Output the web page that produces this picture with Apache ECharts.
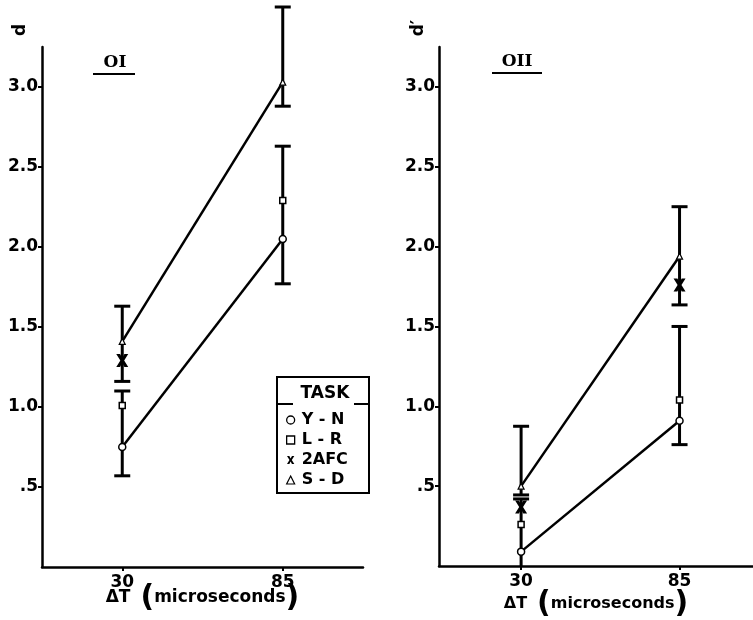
<!DOCTYPE html>
<html>
<head>
<meta charset="utf-8">
<script src="https://cdn.jsdelivr.net/npm/echarts@6/dist/echarts.min.js"></script>
<style>html,body{margin:0;padding:0;background:#fff}#c{width:753px;height:620px}</style>
</head>
<body>
<div id="c"></div>
<script>
// ---- data ----
const xTickValues = [30, 85];
const yTickValues = [0.5, 1.0, 1.5, 2.0, 2.5, 3.0];
const yTickLabels = ['.5', '1.0', '1.5', '2.0', '2.5', '3.0'];
const taskNames = ['Y-N', 'L-R', '2AFC', 'S-D'];

// Observer I
const ynOI  = [0.75, 2.05];
const lrOI  = [1.01, 2.29];
const afcOI = [1.29, 3.36];
const sdOI  = [1.41, 3.03];
const errXOI    = [30, 30, 85, 85];
const errLowOI  = [0.57, 1.16, 1.77, 2.88];
const errHighOI = [1.10, 1.63, 2.63, 3.50];

// Observer II
const ynOII  = [0.09, 0.91];
const lrOII  = [0.26, 1.04];
const afcOII = [0.37, 1.76];
const sdOII  = [0.50, 1.94];
const errXOII    = [30, 30, 85, 85];
const errLowOII  = [-0.20, 0.445, 0.76, 1.635];
const errHighOII = [0.42, 0.875, 1.50, 2.25];

// ---- helpers ----
const FONT = 'DejaVu Sans';
const pair = (xs, ys) => xs.map((x, i) => [x, ys[i]]);
const triple = (xs, lo, hi) => xs.map((x, i) => [x, lo[i], hi[i]]);
const xPath = 'path://M0,0 L3.2,0 L5,3.6 L6.8,0 L10,0 L6.6,5.5 L10,11 L6.8,11 L5,7.4 L3.2,11 L0,11 L3.4,5.5 Z';

function yLabel(v) {
  const i = yTickValues.findIndex(t => Math.abs(t - v) < 1e-6);
  return i >= 0 ? yTickLabels[i] : '';
}

function renderErr(params, api) {
  const x = api.value(0), lo = api.value(1), hi = api.value(2);
  const pHi = api.coord([x, hi]);
  const pLo = api.coord([x, lo]);
  const cs = params.coordSys;
  const bottom = cs.y + cs.height;
  let yLo = pLo[1], capLo = true;
  if (yLo > bottom) { yLo = bottom; capLo = false; }
  const hw = 8;
  const st = { stroke: '#000', lineWidth: 3 };
  const children = [
    { type: 'line', shape: { x1: pHi[0], y1: pHi[1], x2: pHi[0], y2: yLo }, style: st },
    { type: 'line', shape: { x1: pHi[0] - hw, y1: pHi[1], x2: pHi[0] + hw, y2: pHi[1] }, style: st }
  ];
  if (capLo) children.push({ type: 'line', shape: { x1: pLo[0] - hw, y1: yLo, x2: pLo[0] + hw, y2: yLo }, style: st });
  return { type: 'group', children };
}

function xAxisDef(gridIndex, min, max, nameGap, fs) {
  return {
    type: 'value', gridIndex, min, max,
    nameLocation: 'middle', nameGap, nameMoveOverlap: false,
    name: '{d|ΔT}   {p|(}{m|microseconds}{p|)}',
    nameTextStyle: {
      rich: {
        d: { fontFamily: FONT, fontWeight: 'bold', fontSize: fs, color: '#000' },
        m: { fontFamily: FONT, fontWeight: 'bold', fontSize: fs, color: '#000' },
        p: { fontFamily: FONT, fontWeight: 'bold', fontSize: 30, color: '#000' }
      }
    },
    axisLine: { onZero: false, lineStyle: { color: '#000', width: 2.5 } },
    axisTick: { show: true, length: 4, customValues: xTickValues, lineStyle: { color: '#000', width: 2 } },
    axisLabel: { customValues: xTickValues, margin: 7, fontFamily: FONT, fontWeight: 'bold', fontSize: 17, color: '#000' },
    splitLine: { show: false }
  };
}
function yAxisDef(gridIndex) {
  return {
    type: 'value', gridIndex, min: 0, max: 3.25,
    axisLine: { onZero: false, lineStyle: { color: '#000', width: 2.5 } },
    axisTick: { show: true, length: 4, customValues: yTickValues, lineStyle: { color: '#000', width: 2 } },
    axisLabel: { customValues: yTickValues, formatter: yLabel, margin: 4, fontFamily: FONT, fontWeight: 'bold', fontSize: 17, color: '#000' },
    splitLine: { show: false }
  };
}

function panelSeries(idx, yn, lr, afc, sd, ex, elo, ehi) {
  return [
    { type: 'custom', name: 'err' + idx, xAxisIndex: idx, yAxisIndex: idx, renderItem: renderErr,
      encode: { x: 0, y: [1, 2] }, data: triple(ex, elo, ehi), clip: false, z: 1, silent: true },
    { type: 'line', name: taskNames[0], xAxisIndex: idx, yAxisIndex: idx, data: pair(xTickValues, yn),
      symbol: 'circle', symbolSize: 7, lineStyle: { color: '#000', width: 2.5 },
      itemStyle: { color: '#fff', borderColor: '#000', borderWidth: 1.5 }, z: 3 },
    { type: 'scatter', name: taskNames[1], xAxisIndex: idx, yAxisIndex: idx, data: pair(xTickValues, lr),
      symbol: 'rect', symbolSize: 6, itemStyle: { color: '#fff', borderColor: '#000', borderWidth: 1.5, opacity: 1 }, z: 4 },
    { type: 'scatter', name: taskNames[2], xAxisIndex: idx, yAxisIndex: idx, data: pair(xTickValues, afc),
      symbol: xPath, symbolSize: [12, 13], itemStyle: { color: '#000', opacity: 1 }, z: 4 },
    { type: 'line', name: taskNames[3], xAxisIndex: idx, yAxisIndex: idx, data: pair(xTickValues, sd),
      symbol: 'triangle', symbolSize: 6, lineStyle: { color: '#000', width: 2.5 },
      itemStyle: { color: '#fff', borderColor: '#000', borderWidth: 1.2 }, z: 3 }
  ];
}

const chart = echarts.init(document.getElementById('c'), null, { renderer: 'canvas' });
const option = {
  backgroundColor: '#fff',
  animation: false,
  grid: [
    { left: 42, top: 47, width: 321, bottom: 53, containLabel: false, outerBoundsMode: 'none' },
    { left: 439, top: 47, width: 314, bottom: 54, containLabel: false, outerBoundsMode: 'none' }
  ],
  xAxis: [xAxisDef(0, 2.5, 112.5, 16, 17), xAxisDef(1, 1.5, 110.5, 23, 16)],
  yAxis: [yAxisDef(0), yAxisDef(1)],
  legend: {
    orient: 'vertical', left: 286, top: 412, itemGap: 4, itemWidth: 8, itemHeight: 8, padding: 0,
    selectedMode: false,
    formatter: n => n.replace('-', ' - '),
    textStyle: { fontFamily: FONT, fontWeight: 'bold', fontSize: 16, color: '#000', padding: [0, 0, 0, 2] },
    data: [
      { name: taskNames[0], icon: 'circle', itemStyle: { color: '#fff', borderColor: '#000', borderWidth: 1.3 } },
      { name: taskNames[1], icon: 'rect', itemStyle: { color: '#fff', borderColor: '#000', borderWidth: 1.3 } },
      { name: taskNames[2], icon: xPath, itemStyle: { color: '#000' } },
      { name: taskNames[3], icon: 'triangle', itemStyle: { color: '#fff', borderColor: '#000', borderWidth: 1.2 } }
    ]
  },
  graphic: [
    { type: 'rect', shape: { x: 277, y: 377, width: 92, height: 116 }, style: { fill: 'none', stroke: '#000', lineWidth: 2 }, z: 10 },
    { type: 'text', x: 325, y: 394, style: { text: 'TASK', font: 'bold 17px "DejaVu Sans"', fill: '#000', align: 'center', verticalAlign: 'middle' }, z: 10 },
    { type: 'line', shape: { x1: 277, y1: 404, x2: 293, y2: 404 }, style: { stroke: '#000', lineWidth: 2 }, z: 10 },
    { type: 'line', shape: { x1: 354, y1: 404, x2: 369, y2: 404 }, style: { stroke: '#000', lineWidth: 2 }, z: 10 },
    { type: 'text', x: 115, y: 63, style: { text: 'OI', font: 'bold 17px "DejaVu Serif"', fill: '#000', align: 'center', verticalAlign: 'middle' } },
    { type: 'line', shape: { x1: 93, y1: 74, x2: 135, y2: 74 }, style: { stroke: '#000', lineWidth: 2 } },
    { type: 'text', x: 517, y: 62, style: { text: 'OII', font: 'bold 17px "DejaVu Serif"', fill: '#000', align: 'center', verticalAlign: 'middle' } },
    { type: 'line', shape: { x1: 492, y1: 73, x2: 542, y2: 73 }, style: { stroke: '#000', lineWidth: 2 } },
    { type: 'text', x: 21, y: 30, rotation: Math.PI / 2, style: { text: 'd', font: 'bold 17px "DejaVu Sans"', fill: '#000', align: 'center', verticalAlign: 'middle' } },
    { type: 'text', x: 419, y: 28, rotation: Math.PI / 2, style: { text: 'd′', font: 'bold 17px "DejaVu Sans"', fill: '#000', align: 'center', verticalAlign: 'middle' } }
  ],
  series: [
    ...panelSeries(0, ynOI, lrOI, afcOI, sdOI, errXOI, errLowOI, errHighOI),
    ...panelSeries(1, ynOII, lrOII, afcOII, sdOII, errXOII, errLowOII, errHighOII)
  ]
};
chart.setOption(option);
</script>
</body>
</html>
